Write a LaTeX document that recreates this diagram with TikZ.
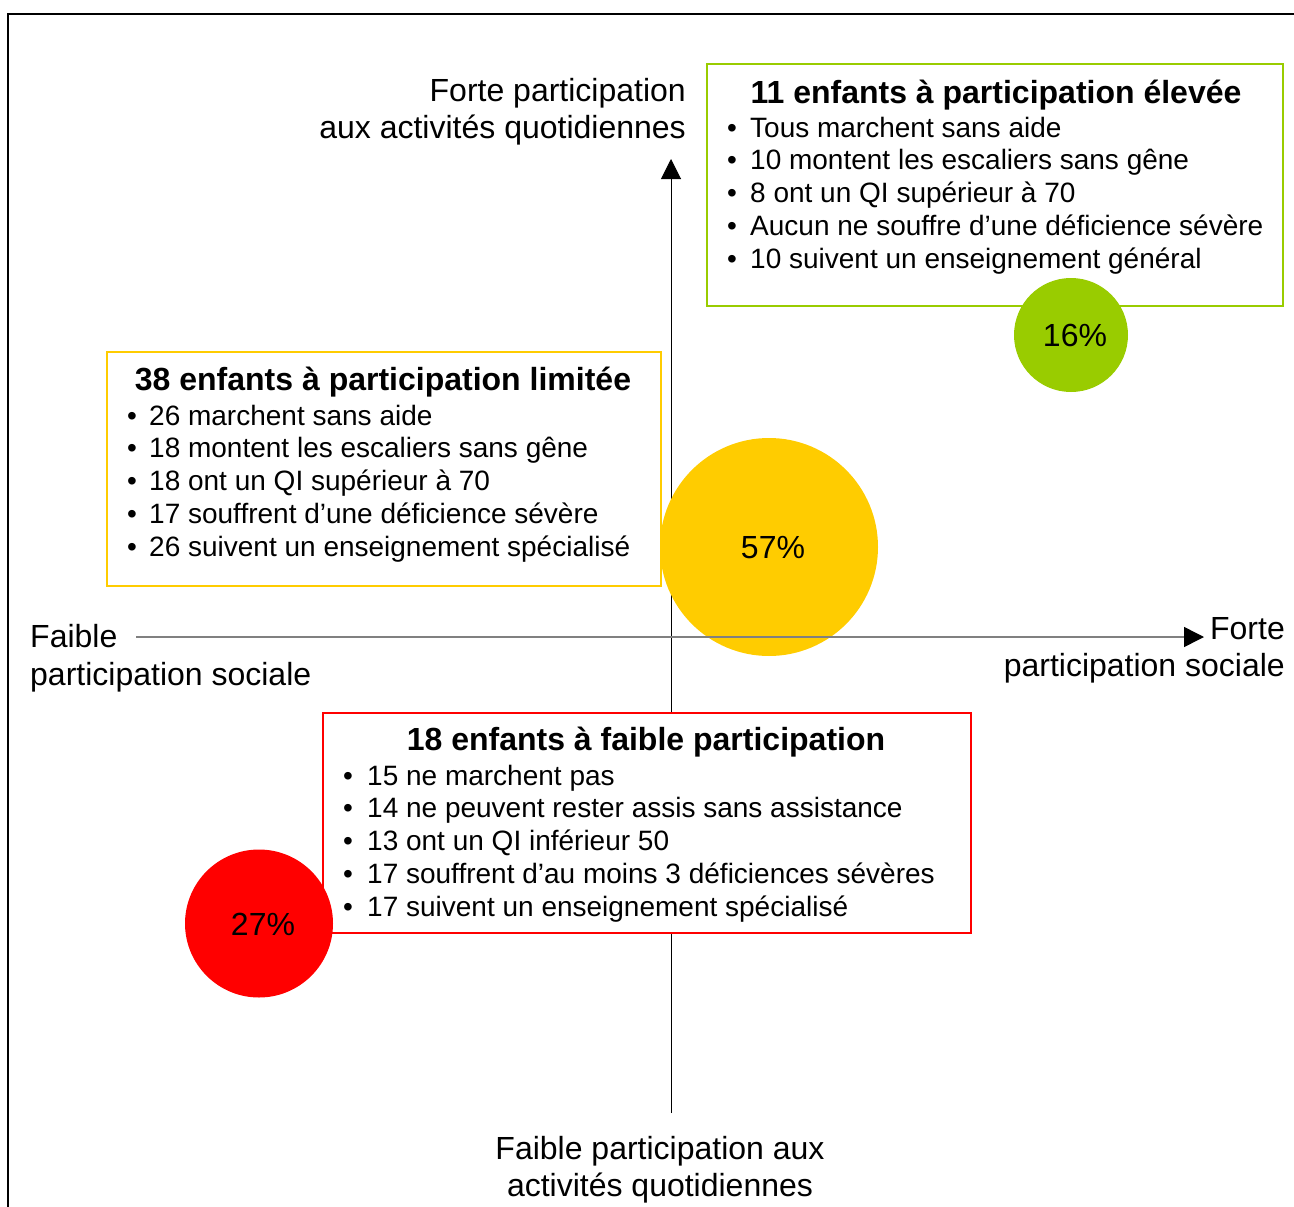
\documentclass[tikz,border=0pt]{standalone}
\usepackage{fontspec}
\setmainfont{Liberation Sans}
\usetikzlibrary{arrows.meta}
\definecolor{cgreen}{HTML}{99CC00}
\definecolor{cyellow}{HTML}{FFCC00}
\definecolor{cred}{HTML}{FF0000}
\definecolor{axisgray}{HTML}{808080}
\begin{document}
\begin{tikzpicture}[x=1pt,y=-1pt,
  body/.style={font=\fontsize{28}{33}\selectfont, inner sep=0pt, anchor=base west},
  bul/.style={font=\fontsize{28}{33}\selectfont, inner sep=0pt, anchor=base},
  ttl/.style={font=\fontsize{32}{38}\selectfont\bfseries, inner sep=0pt, anchor=base},
  lbl/.style={font=\fontsize{32}{38}\selectfont, inner sep=0pt},
  pct/.style={font=\fontsize{32}{38}\selectfont, inner sep=0pt},
  groupbox/.style={draw=#1, line width=2pt, fill=white, rectangle, inner sep=0pt, anchor=north west},
  disc/.style={circle, fill=#1, draw=none, inner sep=0pt},
  axisarrow/.style={-{Triangle[length=20pt,width=20pt,color=black]}},
]
\useasboundingbox (0,0) rectangle (1294,1207);
% frame
\draw[line width=2pt] (8,1207) -- (8,14) -- (1294,14);

% vertical axis
\coordinate (vbot) at (671,1113);
\coordinate (vtop) at (671,159);
\draw[axisarrow, line width=1pt, black] (vbot) -- (vtop);

% boxes
\node[groupbox=cgreen, minimum width=576pt, minimum height=242pt] (gbox) at (706,63) {};
\node[groupbox=cyellow, minimum width=554pt, minimum height=234pt] (ybox) at (106,351) {};
\node[groupbox=cred, minimum width=648pt, minimum height=220pt] (rbox) at (322,712) {};

% circles
\node[disc=cgreen, minimum size=114pt] (gcirc) at (1071,335) {};
\node[disc=cyellow, minimum size=218pt] (ycirc) at (769,547) {};
\node[disc=cred, minimum size=148pt] (rcirc) at (259,923.5) {};

% horizontal axis
\coordinate (hleft) at (136,637);
\coordinate (hright) at (1204,637);
\draw[axisarrow, line width=1.5pt, axisgray] (hleft) -- (hright);

% percentages
\node[pct] (gpct) at (1075,335) {16\%};
\node[pct] (ypct) at (773,548) {57\%};
\node[pct] (rpct) at (263,924) {27\%};

% axis labels
\node[lbl, anchor=base east] (tl1) at (686,102) {Forte participation};
\node[lbl, anchor=base east] (tl2) at (686,139) {aux activités quotidiennes};
\node[lbl, anchor=base west] (ll1) at (30,647) {Faible};
\node[lbl, anchor=base west] (ll2) at (30,685) {participation sociale};
\node[lbl, anchor=base east] (rl1) at (1285,639) {Forte};
\node[lbl, anchor=base east] (rl2) at (1285,676) {participation sociale};
\node[lbl, anchor=base] (bl1) at (660,1159) {Faible participation aux};
\node[lbl, anchor=base] (bl2) at (660,1196) {activités quotidiennes};

% green box text
\node[ttl] (gt) at (996,103) {11 enfants à participation élevée};
\node[bul] (gb1) at (732,137) {•};
\node[body] (gl1) at (750,137) {Tous marchent sans aide};
\node[bul] (gb2) at (732,169.75) {•};
\node[body] (gl2) at (750,169.75) {10 montent les escaliers sans gêne};
\node[bul] (gb3) at (732,202.5) {•};
\node[body] (gl3) at (750,202.5) {8 ont un QI supérieur à 70};
\node[bul] (gb4) at (732,235.25) {•};
\node[body] (gl4) at (750,235.25) {Aucun ne souffre d’une déficience sévère};
\node[bul] (gb5) at (732,268) {•};
\node[body] (gl5) at (750,268) {10 suivent un enseignement général};

% yellow box text
\node[ttl] (yt) at (383,390) {38 enfants à participation limitée};
\node[bul] (yb1) at (132,425) {•};
\node[body] (yl1) at (149,425) {26 marchent sans aide};
\node[bul] (yb2) at (132,457.75) {•};
\node[body] (yl2) at (149,457.75) {18 montent les escaliers sans gêne};
\node[bul] (yb3) at (132,490.5) {•};
\node[body] (yl3) at (149,490.5) {18 ont un QI supérieur à 70};
\node[bul] (yb4) at (132,523.25) {•};
\node[body] (yl4) at (149,523.25) {17 souffrent d’une déficience sévère};
\node[bul] (yb5) at (132,556) {•};
\node[body] (yl5) at (149,556) {26 suivent un enseignement spécialisé};

% red box text
\node[ttl] (rt) at (646,750) {18 enfants à faible participation};
\node[bul] (rb1) at (348,785) {•};
\node[body] (rl1) at (367,785) {15 ne marchent pas};
\node[bul] (rb2) at (348,817.75) {•};
\node[body] (rl2) at (367,817.75) {14 ne peuvent rester assis sans assistance};
\node[bul] (rb3) at (348,850.5) {•};
\node[body] (rl3) at (367,850.5) {13 ont un QI inférieur 50};
\node[bul] (rb4) at (348,883.25) {•};
\node[body] (rl4) at (367,883.25) {17 souffrent d’au moins 3 déficiences sévères};
\node[bul] (rb5) at (348,916) {•};
\node[body] (rl5) at (367,916) {17 suivent un enseignement spécialisé};
\end{tikzpicture}
\end{document}
